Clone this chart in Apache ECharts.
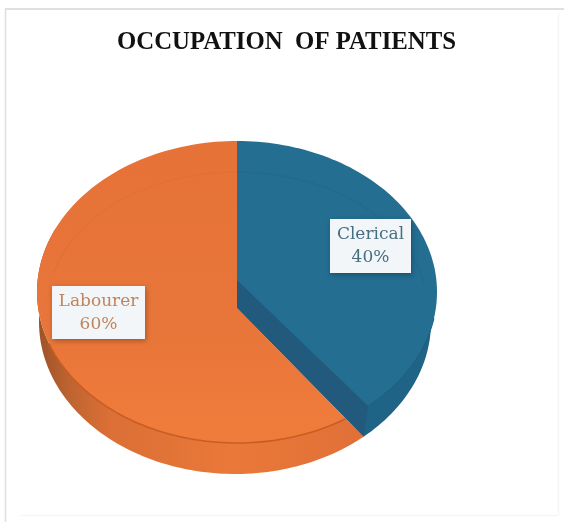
<!DOCTYPE html>
<html><head><meta charset="utf-8">
<style>html,body{margin:0;padding:0;background:#fff}#c{width:564px;height:522px}</style>
<script src="https://cdn.jsdelivr.net/npm/echarts@6/dist/echarts.min.js"></script>
</head><body><div id="c"></div>
<script>
const chartTitle = 'OCCUPATION  OF PATIENTS';
const categories = ['Clerical', 'Labourer'];
const values = [40, 60];
const faceColors = ['#246E92', '#E97639'];
const textColors = ['#456E82', '#C0845C'];
const total = values.reduce((a, b) => a + b, 0);

const top_ = { cx: 237, cy: 292, rx: 200, ry: 151 };
const low = { cx: 235, cy: 322, rx: 196, ry: 152 };
const ring = { cx: 237, cy: 308, rx: 190, ry: 136 };
const vertexBlue = [237, 280], vertexOrange = [237, 308];
const boxes = [{ x: 330, y: 219, w: 81, h: 54 }, { x: 52, y: 286, w: 93, h: 53 }];

function pt(e, deg) {
  const t = deg * Math.PI / 180;
  return [e.cx + e.rx * Math.sin(t), e.cy - e.ry * Math.cos(t)];
}
function arc(e, from, to) {
  const n = Math.max(2, Math.round(Math.abs(to - from) / 1.5));
  const out = [];
  for (let i = 0; i <= n; i++) out.push(pt(e, from + (to - from) * i / n));
  return out;
}
function poly(points, style) { return { type: 'polygon', shape: { points }, style }; }
function line(points, stroke, lineWidth) {
  return { type: 'polyline', shape: { points }, style: { stroke, lineWidth, fill: 'none' } };
}
function labelBox(i, value) {
  const b = boxes[i];
  return [
    { type: 'rect', shape: { x: b.x, y: b.y, width: b.w, height: b.h },
      style: { fill: '#F3F6F8', shadowBlur: 5, shadowColor: 'rgba(0,0,0,0.28)', shadowOffsetX: 1, shadowOffsetY: 2 } },
    { type: 'text', x: b.x + b.w / 2, y: b.y + b.h / 2 + i,
      style: { text: categories[i] + '\n' + value + '%', fill: textColors[i], align: 'center', verticalAlign: 'middle',
        font: '17px "DejaVu Serif"', lineHeight: 23 } }
  ];
}
function renderItem(params, api) {
  const i = params.dataIndex, v = api.value(0);
  const kids = [];
  if (i === 0) {
    const a = v / total * 360;
    kids.push(poly([vertexBlue, vertexOrange].concat(arc(low, a - 5, 90), [pt(top_, 90)]), { fill: '#1F6386' }));
    kids.push(poly([vertexBlue, vertexOrange, pt(top_, a + 3), pt(low, a - 5), pt(top_, a - 5)], { fill: '#215A7C' }));
    kids.push(poly([vertexBlue].concat(arc(top_, 0, a - 5)), { fill: faceColors[0] }));
    kids.push(line(arc(ring, 0, 80), '#236A8E', 1.5));
    kids.push(line(arc(top_, 100, a - 5), '#1F5F80', 1));
    kids.push({ type: 'group', children: labelBox(0, v) });
  } else {
    const a = 360 - v / total * 360;
    kids.push(poly(arc(low, a - 5, 295).concat(arc(top_, 295, a + 3)), {
      fill: { type: 'linear', x: 0, y: 0, x2: 1, y2: 0, colorStops: [
        { offset: 0, color: '#9C5228' }, { offset: 0.1, color: '#BE6430' },
        { offset: 0.22, color: '#DB6F36' }, { offset: 0.6, color: '#EA7839' }, { offset: 1, color: '#E07038' }] }
    }));
    kids.push(poly([vertexOrange].concat(arc(top_, a + 3, 360)), {
      fill: { type: 'linear', x: 0, y: 0, x2: 0, y2: 1, colorStops: [
        { offset: 0, color: '#E67238' }, { offset: 0.6, color: '#E87539' }, { offset: 1, color: '#F07C3C' }] }
    }));
    kids.push(line(arc(ring, 285, 360), '#E37037', 1.5));
    kids.push(line(arc(top_, a + 3, 250), '#C85D22', 1.6));
    kids.push({ type: 'group', children: labelBox(1, v) });
  }
  return { type: 'group', children: kids };
}
const frameLine = (x1, y1, x2, y2, stroke) => ({ type: 'line', z: -1, shape: { x1, y1, x2, y2 }, style: { stroke, lineWidth: 1.5 } });
const chart = echarts.init(document.getElementById('c'), null, { renderer: 'canvas' });
chart.setOption({
  animation: false,
  backgroundColor: '#fff',
  title: { text: chartTitle, left: 281.5, top: 25, textAlign: 'center',
    textStyle: { fontFamily: '"Liberation Serif"', fontWeight: 'bold', fontSize: 24.8, color: '#111' } },
  graphic: [
    frameLine(5, 9, 564, 9, '#D6D6D6'),
    frameLine(5.5, 9, 5.5, 522, '#DEDEDE'),
    frameLine(558.5, 12, 558.5, 515, '#F6F6F6'),
    frameLine(20, 515.5, 558, 515.5, '#F6F6F6')
  ],
  series: [{ type: 'custom', coordinateSystem: 'none', renderItem,
    data: categories.map((c, i) => ({ name: c, value: [values[i]] })) }]
});
</script></body></html>
